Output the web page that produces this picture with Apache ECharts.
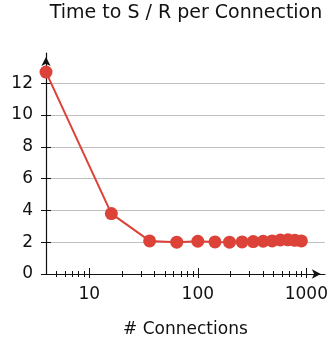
<!DOCTYPE html>
<html>
<head>
<meta charset="utf-8">
<script src="https://cdn.jsdelivr.net/npm/echarts@6/dist/echarts.min.js"></script>
<style>
  html, body { margin: 0; padding: 0; background: #fff; }
  #chart { width: 331px; height: 343px; }
</style>
</head>
<body>
<div id="chart"></div>
<script>
// Measured time to send/receive, per connection count
const connections = [4, 16, 36, 64, 100, 144, 196, 256, 324, 400, 484, 576, 676, 784, 900];
const timeToSR = [12.7, 3.8, 2.08, 2.0, 2.06, 2.02, 2.0, 2.02, 2.04, 2.06, 2.08, 2.14, 2.15, 2.12, 2.08];

// Axis ticks
const xMajorTicks = [10, 100, 1000];
const xMinorTicks = [5, 6, 7, 8, 9, 20, 30, 40, 50, 60, 70, 80, 90, 200, 300, 400, 500, 600, 700, 800, 900];
const yTicks = [0, 2, 4, 6, 8, 10, 12];

const X_MIN = 4, X_MAX = 1480;
const Y_MIN = 0, Y_MAX = 13.9;

const TITLE = 'Time to S / R per Connection';
const X_NAME = '# Connections';

const FONT = 'DejaVu Sans';
const RED = '#dc4238';
const INK = '#111';

const chart = echarts.init(document.getElementById('chart'), null, { renderer: 'canvas' });

const lgMin = Math.log10(X_MIN), lgMax = Math.log10(X_MAX);
const lgMajor = xMajorTicks.map(Math.log10);
const lgMinor = xMinorTicks.map(Math.log10);

// decorative log-space axis used only for ticks / labels
function decoAxis(extra) {
  return Object.assign({
    type: 'value', min: lgMin, max: lgMax, position: 'bottom',
    axisLine: { show: false, onZero: false },
    axisTick: { show: false },
    axisLabel: { show: false },
    splitLine: { show: false }
  }, extra);
}

const option = {
  animation: false,
  backgroundColor: '#fff',
  grid: { left: 46, top: 53, right: 6, bottom: 64, containLabel: false },
  graphic: [{
    type: 'text', x: 186, y: 13,
    style: { text: TITLE, font: '19px "' + FONT + '"', fill: INK, textAlign: 'center', textVerticalAlign: 'middle' }
  }],
  xAxis: [
    // data axis (logarithmic)
    { type: 'log', logBase: 10, min: X_MIN, max: X_MAX, show: false },
    // axis line, major ticks (outside) and labels
    decoAxis({
      axisLine: {
        show: true, onZero: false,
        symbol: ['none', 'arrow'], symbolSize: [7, 9], symbolOffset: [0, -4],
        lineStyle: { color: INK, width: 1.2 }
      },
      axisTick: { show: true, customValues: lgMajor, length: 4, lineStyle: { color: INK, width: 1 } },
      axisLabel: {
        show: true, customValues: lgMajor, margin: 12,
        fontFamily: FONT, fontSize: 17, color: INK,
        formatter: v => String(Math.round(Math.pow(10, v)))
      },
      name: X_NAME, nameLocation: 'middle', nameGap: 47,
      nameTextStyle: { fontFamily: FONT, fontSize: 17, color: INK }
    }),
    // major ticks (inside)
    decoAxis({ axisTick: { show: true, inside: true, customValues: lgMajor, length: 6, lineStyle: { color: INK, width: 1 } } }),
    // minor ticks (outside / inside)
    decoAxis({ axisTick: { show: true, customValues: lgMinor, length: 3, lineStyle: { color: INK, width: 1 } } }),
    decoAxis({ axisTick: { show: true, inside: true, customValues: lgMinor, length: 3, lineStyle: { color: INK, width: 1 } } })
  ],
  yAxis: [
    {
      type: 'value', min: Y_MIN, max: Y_MAX, interval: 2, position: 'left',
      axisLine: {
        show: true, onZero: false,
        symbol: ['none', 'arrow'], symbolSize: [7, 9], symbolOffset: [0, -4],
        lineStyle: { color: INK, width: 1.2 }
      },
      axisTick: { show: true, customValues: yTicks, length: 5, lineStyle: { color: INK, width: 1 } },
      axisLabel: { show: true, customValues: yTicks, margin: 13, fontFamily: FONT, fontSize: 17, color: INK },
      splitLine: { show: true, lineStyle: { color: '#c0c0c0', width: 1 } }
    },
    {
      type: 'value', min: Y_MIN, max: Y_MAX, interval: 2, position: 'left',
      axisLine: { show: false, onZero: false },
      axisTick: { show: true, inside: true, customValues: yTicks, length: 5, lineStyle: { color: INK, width: 1 } },
      axisLabel: { show: false },
      splitLine: { show: false }
    }
  ],
  series: [{
    type: 'line',
    xAxisIndex: 0, yAxisIndex: 0,
    data: connections.map((c, i) => [c, timeToSR[i]]),
    symbol: 'circle', symbolSize: 13,
    lineStyle: { color: RED, width: 2 },
    itemStyle: { color: RED },
    z: 5
  }]
};

chart.setOption(option);
</script>
</body>
</html>
